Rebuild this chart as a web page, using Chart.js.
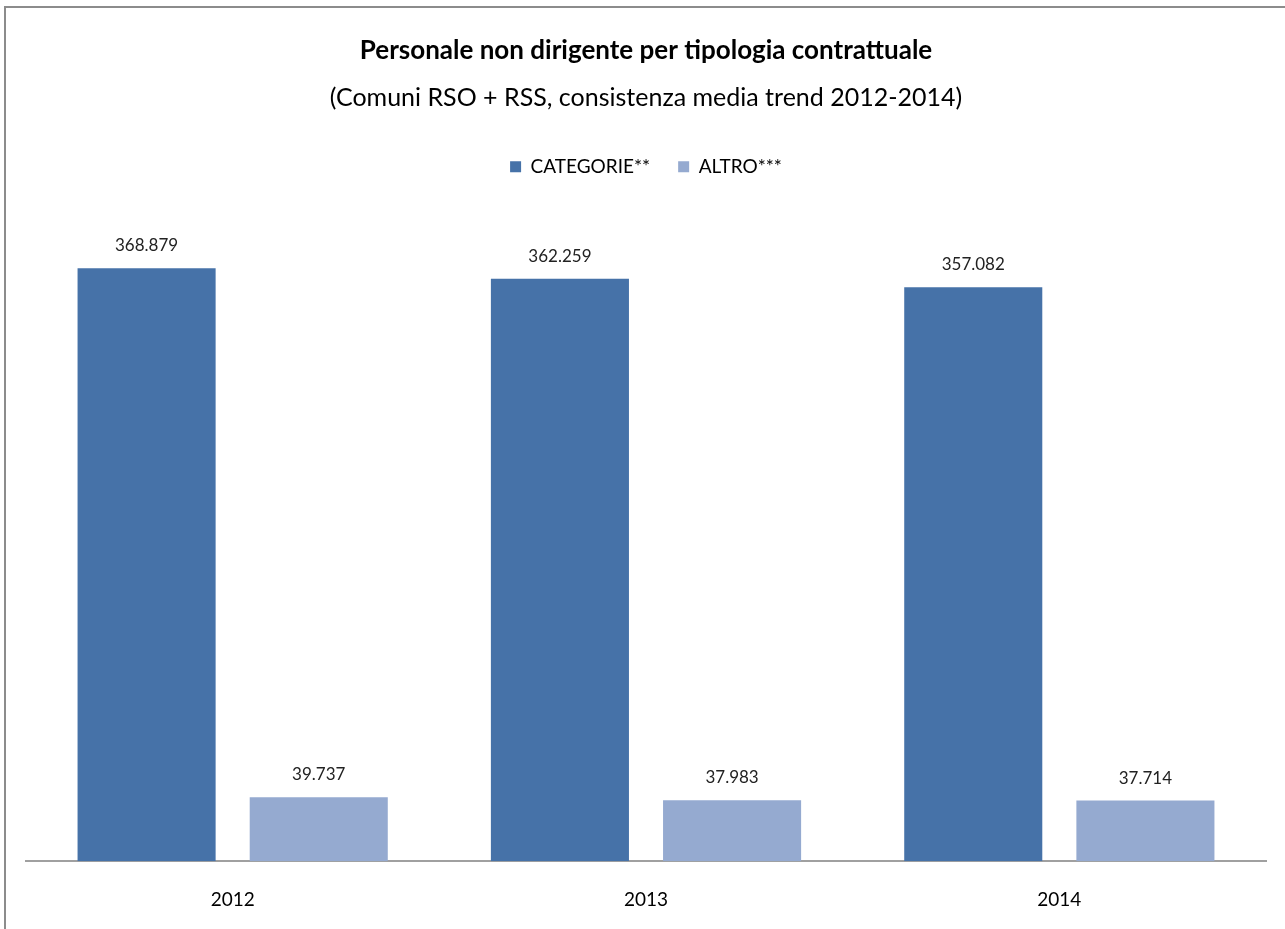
<!DOCTYPE html>
<html>
<head>
<meta charset="utf-8">
<script src="https://cdn.jsdelivr.net/npm/chart.js@4/dist/chart.umd.min.js"></script>
<style>
  html, body { margin: 0; padding: 0; background: #fff; overflow: hidden; }
  #frame { position: absolute; left: 4px; top: 6px; width: 1400px; height: 1000px; border: 2px solid #8c8c8c; }
  #chart { position: absolute; left: 0; top: 0; }
</style>
</head>
<body>
<div id="frame"></div>
<canvas id="chart" width="1285" height="930"></canvas>
<script>
const years = ['2012', '2013', '2014'];
const categorie = [368879, 362259, 357082];
const altro = [39737, 37983, 37714];
const FONT = "Lato, sans-serif";

function fmt(v) {
    return String(v).replace(/\B(?=(\d{3})+(?!\d))/g, '.');
}

const valueLabels = {
    id: 'valueLabels',
    afterDatasetsDraw(chart) {
        const ctx = chart.ctx;
        ctx.save();
        ctx.font = '17px ' + FONT;
        ctx.fillStyle = '#222';
        ctx.textAlign = 'center';
        ctx.textBaseline = 'bottom';
        chart.data.datasets.forEach((ds, i) => {
            chart.getDatasetMeta(i).data.forEach((bar, j) => {
                ctx.fillText(fmt(ds.data[j]), bar.x, bar.y - 14);
            });
        });
        ctx.restore();
    }
};

// extra room under the legend
const legendGap = {
    id: 'legendGap',
    beforeInit(chart) {
        const fit = chart.legend.fit;
        chart.legend.fit = function () {
            fit.bind(chart.legend)();
            this.height += 32;
        };
    }
};

new Chart(document.getElementById('chart').getContext('2d'), {
    type: 'bar',
    data: {
        labels: years,
        datasets: [{
            label: 'CATEGORIE**',
            data: categorie,
            backgroundColor: '#4672a8'
        }, {
            label: 'ALTRO***',
            data: altro,
            backgroundColor: '#95aad0'
        }]
    },
    options: {
        responsive: false,
        animation: false,
        categoryPercentage: 0.833,
        barPercentage: 0.802,
        layout: { padding: { top: 35, left: 26, right: 19, bottom: 0 } },
        plugins: {
            title: {
                display: true,
                text: 'Personale non dirigente per tipologia contrattuale',
                color: '#000',
                font: { family: FONT, size: 26, weight: 'bold' },
                padding: { top: 0, bottom: 17 }
            },
            subtitle: {
                display: true,
                text: '(Comuni RSO + RSS, consistenza media trend 2012-2014)',
                color: '#000',
                font: { family: FONT, size: 25 },
                padding: { bottom: 16 }
            },
            legend: {
                labels: {
                    boxWidth: 11,
                    boxHeight: 11,
                    color: '#000',
                    padding: 28,
                    font: { family: FONT, size: 19 }
                }
            },
            tooltip: { enabled: false }
        },
        scales: {
            x: {
                grid: { display: false },
                border: { color: '#a0a0a0', width: 2 },
                ticks: { color: '#000', padding: 19, font: { family: FONT, size: 19 } }
            },
            y: {
                display: false,
                min: 0,
                max: 400000
            }
        }
    },
    plugins: [valueLabels, legendGap]
});
</script>
</body>
</html>
